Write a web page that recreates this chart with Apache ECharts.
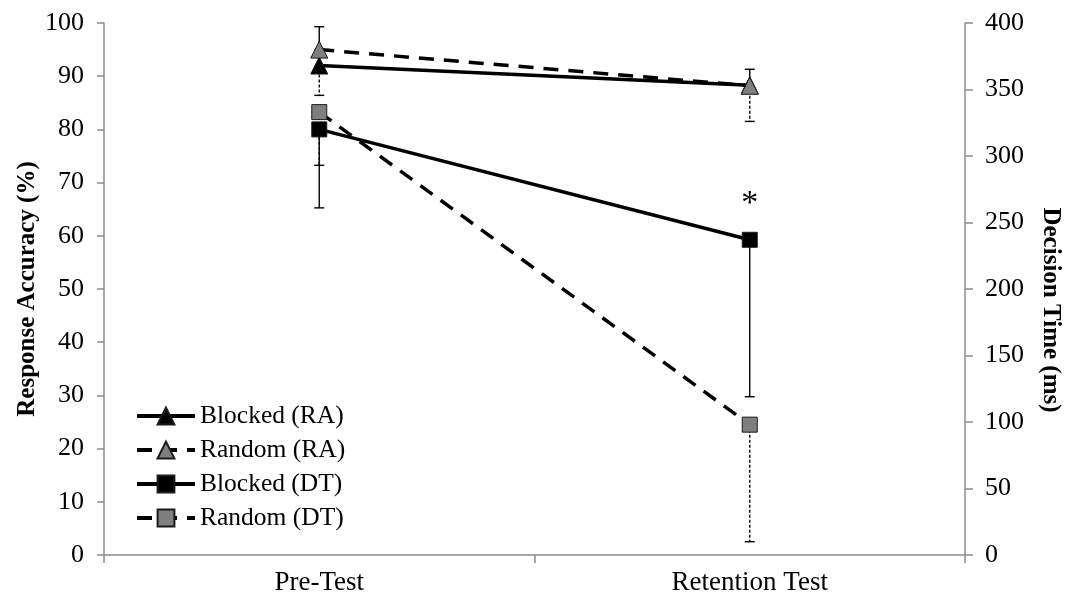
<!DOCTYPE html>
<html>
<head>
<meta charset="utf-8">
<script src="https://cdn.jsdelivr.net/npm/echarts@6/dist/echarts.min.js"></script>
<style>
  html, body { margin: 0; padding: 0; background: #ffffff; }
  #chart { width: 1071px; height: 597px; }
</style>
</head>
<body>
<div id="chart"></div>
<script>
// Test phases on the category axis
const categories = ['Pre-Test', 'Retention Test'];

// Response accuracy (%), left axis
const blockedRA = [92.0, 88.3];
const randomRA = [95.0, 88.2];
// Decision time (ms), right axis
const blockedDT = [320, 237];
const randomDT = [333, 98];

// One-sided standard deviations
const blockedRAErrUp = [7.3, 3.0];
const randomRAErrDown = [8.6, 6.7];
const blockedDTErrDown = [59, 118];
const randomDTErrDown = [40, 88];

// Significance markers per phase (Blocked DT)
const significance = ['', '*'];

const FONT = '"Liberation Serif", "Times New Roman", serif';
const GRAY = '#7f7f7f';
const DASH = [15, 10];

function errorRows(values, errs, dir) {
  return values.map((v, i) => [i, v, v + dir * errs[i]]);
}

function errorSeries(rows, yAxisIndex, dashed) {
  return {
    type: 'custom',
    yAxisIndex: yAxisIndex,
    silent: true,
    z: 1,
    data: rows,
    encode: { x: 0, y: [1, 2] },
    renderItem: function (params, api) {
      const a = api.coord([api.value(0), api.value(1)]);
      const b = api.coord([api.value(0), api.value(2)]);
      const cap = 5;
      const style = {
        stroke: '#000',
        lineWidth: 1.4,
        lineDash: dashed ? [3, 2] : null
      };
      return {
        type: 'group',
        children: [
          { type: 'line', shape: { x1: a[0], y1: a[1], x2: b[0], y2: b[1] }, style: style },
          { type: 'line', shape: { x1: b[0] - cap, y1: b[1], x2: b[0] + cap, y2: b[1] },
            style: { stroke: '#000', lineWidth: 1.4 } }
        ]
      };
    }
  };
}

function lineSeries(name, data, yAxisIndex, symbol, fill, dashed, z) {
  return {
    name: name,
    type: 'line',
    yAxisIndex: yAxisIndex,
    data: data,
    z: z,
    symbol: symbol,
    symbolSize: symbol === 'triangle' ? 17 : 15,
    showAllSymbol: true,
    lineStyle: { color: '#000', width: 3.5, type: dashed ? DASH : 'solid' },
    itemStyle: { color: fill, borderColor: '#1a1a1a', borderWidth: 1 }
  };
}

const chart = echarts.init(document.getElementById('chart'), null, { renderer: 'canvas' });

const axisLine = { show: true, lineStyle: { color: '#8c8c8c', width: 1.5 } };
const axisTick = { show: true, length: 7, lineStyle: { color: '#8c8c8c', width: 1.5 } };
const labelStyle = { color: '#000', fontFamily: FONT, fontSize: 26 };
const nameStyle = { color: '#000', fontFamily: FONT, fontSize: 25, fontWeight: 'bold' };

const blockedDTSeries = lineSeries('Blocked (DT)', blockedDT, 1, 'rect', '#000', false, 6);
blockedDTSeries.label = {
  show: true,
  position: 'top',
  distance: 11,
  formatter: p => significance[p.dataIndex],
  color: '#000',
  fontFamily: FONT,
  fontSize: 34
};

chart.setOption({
  animation: false,
  backgroundColor: '#ffffff',
  grid: { left: 104, right: 105, top: 23, bottom: 42, containLabel: false },
  legend: {
    orient: 'vertical',
    left: 135,
    top: 403,
    padding: 0,
    itemWidth: 58,
    itemHeight: 21,
    itemGap: 8,
    data: ['Blocked (RA)', 'Random (RA)', 'Blocked (DT)', 'Random (DT)'],
    lineStyle: { width: 4 },
    textStyle: { color: '#000', fontFamily: FONT, fontSize: 25.5, lineHeight: 25 }
  },
  xAxis: {
    type: 'category',
    data: categories,
    boundaryGap: true,
    axisLine: axisLine,
    axisTick: { show: true, length: 8, alignWithLabel: false, lineStyle: { color: '#8c8c8c', width: 1.5 } },
    axisLabel: Object.assign({ margin: 14 }, labelStyle, { fontSize: 27 }),
    splitLine: { show: false }
  },
  yAxis: [
    {
      type: 'value',
      position: 'left',
      min: 0, max: 100, interval: 10,
      name: 'Response Accuracy (%)',
      nameLocation: 'middle',
      nameGap: 64,
      nameMoveOverlap: false,
      nameTextStyle: nameStyle,
      axisLine: axisLine,
      axisTick: axisTick,
      axisLabel: Object.assign({ margin: 20 }, labelStyle),
      splitLine: { show: false }
    },
    {
      type: 'value',
      position: 'right',
      min: 0, max: 400, interval: 50,
      name: 'Decision Time (ms)',
      nameLocation: 'middle',
      nameGap: 73,
      nameRotate: -90,
      nameTextStyle: Object.assign({ padding: [0, 0, 0, 42] }, nameStyle),
      axisLine: axisLine,
      axisTick: { show: true, length: 8, lineStyle: { color: '#8c8c8c', width: 1.5 } },
      axisLabel: Object.assign({ margin: 20 }, labelStyle),
      splitLine: { show: false }
    }
  ],
  series: [
    errorSeries(errorRows(blockedRA, blockedRAErrUp, 1), 0, false),
    errorSeries(errorRows(randomRA, randomRAErrDown, -1), 0, true),
    errorSeries(errorRows(blockedDT, blockedDTErrDown, -1), 1, false),
    errorSeries(errorRows(randomDT, randomDTErrDown, -1), 1, true),
    lineSeries('Blocked (RA)', blockedRA, 0, 'triangle', '#000', false, 3),
    lineSeries('Random (RA)', randomRA, 0, 'triangle', GRAY, true, 4),
    lineSeries('Random (DT)', randomDT, 1, 'rect', GRAY, true, 5),
    blockedDTSeries
  ]
});
</script>
</body>
</html>
